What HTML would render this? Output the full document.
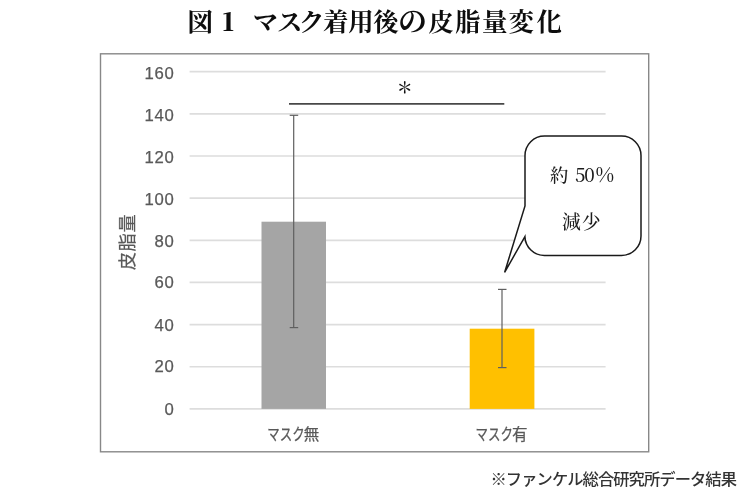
<!DOCTYPE html>
<html lang="ja">
<head>
<meta charset="utf-8">
<title>図1 マスク着用後の皮脂量変化</title>
<style>
html,body{margin:0;padding:0;background:#fff;}
body{width:750px;height:500px;overflow:hidden;position:relative;}
svg{position:absolute;left:0;top:0;display:block;}
.serif{font-family:"Liberation Serif","Noto Serif CJK JP","Noto Serif CJK SC",serif;}
.sans{font-family:"Liberation Sans","Noto Sans CJK JP",sans-serif;}
</style>
</head>
<body>
<svg width="750" height="500" viewBox="0 0 750 500">
  <rect x="0" y="0" width="750" height="500" fill="#ffffff"/>

  <!-- title -->
  <text id="title" class="serif" y="31.4" font-size="25.5" font-weight="700" fill="#0d0d0d" xml:space="preserve" x="187.5 213 222.2 234 242 252.8 276.9 298.9 323.1 348.3 373.3 398 428.2 455 482.1 508.6 536.4">図 <tspan font-weight="900" font-family="'Noto Serif CJK JP','Noto Serif CJK SC','Liberation Serif',serif">1</tspan>  マスク着用後<tspan font-size="29" dy="0.4">の</tspan><tspan dy="-0.4">皮</tspan>脂量変化</text>

  <!-- chart frame -->
  <rect x="100.5" y="53.8" width="548.2" height="398" fill="#ffffff" stroke="#888888" stroke-width="1.4"/>

  <!-- gridlines -->
  <g stroke="#dddddd" stroke-width="1.7">
    <line x1="189.6" x2="605.6" y1="71.70" y2="71.70"/>
    <line x1="189.6" x2="605.6" y1="113.85" y2="113.85"/>
    <line x1="189.6" x2="605.6" y1="156.00" y2="156.00"/>
    <line x1="189.6" x2="605.6" y1="198.15" y2="198.15"/>
    <line x1="189.6" x2="605.6" y1="240.30" y2="240.30"/>
    <line x1="189.6" x2="605.6" y1="282.45" y2="282.45"/>
    <line x1="189.6" x2="605.6" y1="324.60" y2="324.60"/>
    <line x1="189.6" x2="605.6" y1="366.75" y2="366.75"/>
    <line x1="189.6" x2="605.6" y1="408.90" y2="408.90"/>
  </g>

  <!-- y tick labels -->
  <g class="sans" font-size="16.7" fill="#595959" stroke="#595959" stroke-width="0.25" text-anchor="end" letter-spacing="0.7">
    <text x="174.5" y="78.9">160</text>
    <text x="174.5" y="121.0">140</text>
    <text x="174.5" y="163.1">120</text>
    <text x="174.5" y="205.0">100</text>
    <text x="174.5" y="247.0">80</text>
    <text x="174.5" y="288.0">60</text>
    <text x="174.5" y="330.5">40</text>
    <text x="174.5" y="372.4">20</text>
    <text x="174.5" y="414.5">0</text>
  </g>

  <!-- y axis title -->
  <text class="sans" font-size="18.3" letter-spacing="0.5" fill="#595959" stroke="#595959" stroke-width="0.2" text-anchor="middle" transform="translate(133.7,242) rotate(-90)">皮脂量</text>

  <!-- bars -->
  <rect x="261.5" y="221.7" width="64.5" height="187.2" fill="#a5a5a5"/>
  <rect x="469.7" y="328.7" width="64.7" height="80.2" fill="#ffc000"/>

  <!-- error bars -->
  <g stroke="#5f5f5f" stroke-width="1.2" fill="none">
    <line x1="293.7" x2="293.7" y1="115" y2="327.6"/>
    <line x1="289.7" x2="298.2" y1="115.3" y2="115.3"/>
    <line x1="289.7" x2="298.2" y1="327.6" y2="327.6"/>
    <line x1="502" x2="502" y1="289.4" y2="367.6"/>
    <line x1="498" x2="506.5" y1="289.4" y2="289.4"/>
    <line x1="498" x2="506.5" y1="367.6" y2="367.6"/>
  </g>

  <!-- significance line + asterisk -->
  <line x1="289" x2="504.3" y1="103.85" y2="103.85" stroke="#484848" stroke-width="1.75"/>
  <text class="serif" x="404.75" y="92.6" font-size="16" font-weight="700" fill="#111111" text-anchor="middle">＊</text>

  <!-- x labels -->
  <g class="sans" font-size="15.5" fill="#595959" stroke="#595959" stroke-width="0.25">
    <text x="267.3" y="440" text-anchor="start"><tspan textLength="37.4" lengthAdjust="spacingAndGlyphs">マスク</tspan><tspan dx="-0.9">無</tspan></text>
    <text x="475.6" y="440" text-anchor="start"><tspan textLength="37.4" lengthAdjust="spacingAndGlyphs">マスク</tspan><tspan dx="-0.9">有</tspan></text>
  </g>

  <!-- callout -->
  <path d="M544.5 136.1 H621.5 A19.5 19.5 0 0 1 641 155.6 V235.9 A19.5 19.5 0 0 1 621.5 255.4 H544.5 A19.5 19.5 0 0 1 524.9 236.6 L504.6 272.4 L525 206 V155.6 A19.5 19.5 0 0 1 544.5 136.1 Z" fill="#ffffff" stroke="#1a1a1a" stroke-width="1.5" stroke-linejoin="miter"/>
  <g font-family="'Noto Serif CJK JP','Noto Serif CJK SC','Liberation Serif',serif" fill="#1c1c1c" font-weight="500">
    <text y="182.4" font-size="18.5" xml:space="preserve" x="550 568.5 575 584.3 595.6">約 50<tspan font-size="20">%</tspan></text>
    <text y="229.1" font-size="18.8" x="562 581.9">減少</text>
  </g>

  <!-- footnote -->
  <text id="foot" class="sans" transform="translate(490.5,484.9) scale(1.045,1)" font-size="15.6" font-weight="500" fill="#333333" letter-spacing="-0.9">※ファンケル総合研究所データ結果</text>
</svg>
</body>
</html>
